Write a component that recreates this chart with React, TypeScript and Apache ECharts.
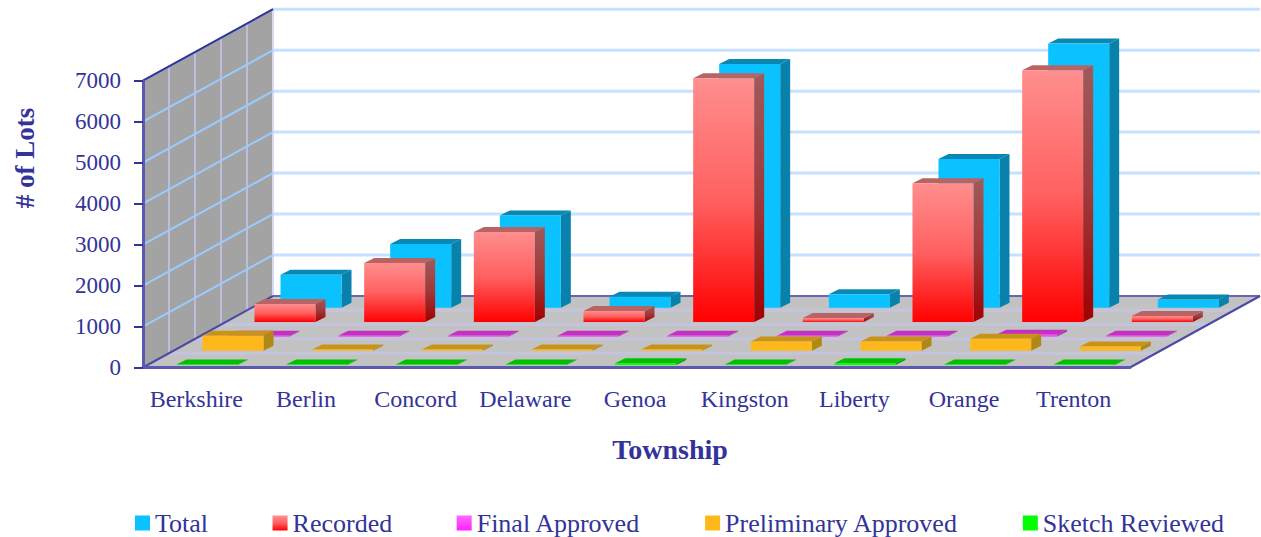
import React, { useEffect, useRef } from "react";
import * as echarts from "echarts";

const categories = ["Berkshire", "Berlin", "Concord", "Delaware", "Genoa", "Kingston", "Liberty", "Orange", "Trenton"];
const total = [805, 1560, 2250, 270, 5950, 330, 3630, 6450, 200];
const recorded = [440, 1440, 2200, 270, 5950, 100, 3390, 6150, 150];
const finalApproved = [15, 15, 15, 15, 15, 15, 15, 40, 15];
const preliminaryApproved = [365, 30, 30, 30, 30, 225, 225, 290, 100];
const sketchReviewed = [15, 15, 15, 15, 40, 15, 40, 15, 15];
const yTicks = [0, 1000, 2000, 3000, 4000, 5000, 6000, 7000];

const TEXT = "#333399";
const SERIF = "'Liberation Serif', 'Times New Roman', serif";
const ROW_DX = 26;
const ROW_DY = 14.3;
const DEPTH_DX = 130;
const DEPTH_DY = 71.5;
const BAR_W = 61;
const BAR_DX = 10;
const BAR_DY = 5;

const grad = (colors: string[]) =>
  new echarts.graphic.LinearGradient(
    0,
    0,
    0,
    1,
    colors.map((color, i) => ({ offset: i / (colors.length - 1), color }))
  );

function backdrop(_p: any, api: any) {
  const y0 = api.coord([0, 0]);
  const band = api.size([1, 0])[0];
  const x0 = y0[0] - band / 2;
  const yb = y0[1];
  const xEnd = x0 + band * categories.length;
  const yTop = api.coord([0, 7000])[1];
  const c: any[] = [];
  const poly = (pts: number[][], fill: string) =>
    c.push({ type: "polygon", shape: { points: pts }, style: { fill } });
  const line = (a: number[], b: number[], stroke: string, lineWidth: number) =>
    c.push({ type: "line", shape: { x1: a[0], y1: a[1], x2: b[0], y2: b[1] }, style: { stroke, lineWidth } });

  poly([[x0, yTop], [x0 + DEPTH_DX, yTop - DEPTH_DY], [x0 + DEPTH_DX, yb - DEPTH_DY], [x0, yb]], "#a3a3a3");
  poly([[x0, yb], [x0 + DEPTH_DX, yb - DEPTH_DY], [xEnd + DEPTH_DX, yb - DEPTH_DY], [xEnd, yb]], "#c2c2c2");
  for (let k = 1; k < 5; k++) {
    const dx = (DEPTH_DX * k) / 5;
    const dy = (DEPTH_DY * k) / 5;
    line([x0 + dx, yTop - dy], [x0 + dx, yb - dy], "#bcbcdc", 2);
    line([x0 + dx, yb - dy], [xEnd + dx, yb - dy], "#c4c4dc", 3);
  }
  line([x0 + DEPTH_DX, yTop - DEPTH_DY], [x0 + DEPTH_DX, yb - DEPTH_DY], "#d8d8f0", 2);
  yTicks.forEach((t) => {
    const y = api.coord([0, t])[1];
    if (t > 0) {
      line([x0, y], [x0 + DEPTH_DX, y - DEPTH_DY], "#99ccff", 2);
      line([x0 + DEPTH_DX, y - DEPTH_DY], [xEnd + DEPTH_DX, y - DEPTH_DY], "#c6e0ff", 3);
    }
  });
  line([x0 + DEPTH_DX, yb - DEPTH_DY], [xEnd + DEPTH_DX, yb - DEPTH_DY], "#6666b4", 2);
  line([x0, yTop], [x0 + DEPTH_DX, yTop - DEPTH_DY], TEXT, 2);
  line([x0, yb], [x0 + DEPTH_DX, yb - DEPTH_DY], "#4a4aa6", 2);
  line([xEnd, yb], [xEnd + DEPTH_DX, yb - DEPTH_DY], "#4a4aa6", 2);
  return { type: "group", silent: true, children: c };
}

function barRenderer(row: number, front: string[], side: string[], top: string) {
  return (_p: any, api: any) => {
    const i = api.value(0);
    const v = api.value(1);
    const base = api.coord([i, 0]);
    const peak = api.coord([i, v]);
    const band = api.size([1, 0])[0];
    const x = base[0] - band / 2 + 33.5 + ROW_DX * row;
    const yB = base[1] - 2.5 - ROW_DY * row;
    const yT = yB - (base[1] - peak[1]);
    const r = x + BAR_W;
    return {
      type: "group",
      children: [
        { type: "polygon", shape: { points: [[r, yT], [r + BAR_DX, yT - BAR_DY], [r + BAR_DX, yB - BAR_DY], [r, yB]] }, style: { fill: grad(side) } },
        { type: "polygon", shape: { points: [[x, yT], [x + BAR_DX, yT - BAR_DY], [r + BAR_DX, yT - BAR_DY], [r, yT]] }, style: { fill: top } },
        { type: "rect", shape: { x, y: yT, width: BAR_W, height: yB - yT }, style: { fill: grad(front) } },
      ],
    };
  };
}

const rows = (vals: number[]) => vals.map((v, i) => [i, v]);

export default function App() {
  const ref = useRef<HTMLDivElement>(null);
  useEffect(() => {
    const chart = echarts.init(ref.current!, null, { renderer: "svg" });
    const bar = (name: string, vals: number[], row: number, front: string[], side: string[], top: string) => ({
      type: "custom" as const,
      name,
      data: rows(vals),
      encode: { x: 0, y: 1 },
      itemStyle: { color: grad(front) },
      renderItem: barRenderer(row, front, side, top),
      silent: true,
    });
    chart.setOption({
      animation: false,
      backgroundColor: "#ffffff",
      grid: { left: 143, right: 131, top: 80.7, bottom: 169.5, containLabel: false },
      xAxis: {
        type: "category",
        data: categories,
        z: 10,
        axisLine: { lineStyle: { color: "#5a5ab0", width: 3 } },
        axisTick: { alignWithLabel: false, length: 8, lineStyle: { color: TEXT, width: 2 } },
        axisLabel: { color: TEXT, fontFamily: SERIF, fontSize: 24, margin: 19, interval: 0, padding: [0, 3, 0, 0] },
      },
      yAxis: {
        type: "value",
        min: 0,
        max: 7000,
        interval: 1000,
        z: 10,
        splitLine: { show: false },
        axisLine: { show: true, lineStyle: { color: "#5a5ab0", width: 3 } },
        axisTick: { show: true, length: 9, lineStyle: { color: TEXT, width: 2 } },
        axisLabel: { color: TEXT, fontFamily: SERIF, fontSize: 23, margin: 22, formatter: (v: number) => String(v) },
      },
      legend: {
        left: 130,
        top: 505,
        itemGap: 64.5,
        itemWidth: 15,
        itemHeight: 15,
        icon: "rect",
        data: ["Total", "Recorded", "Final Approved", "Preliminary Approved", "Sketch Reviewed"],
        textStyle: { color: TEXT, fontFamily: SERIF, fontSize: 26 },
      },
      graphic: [
        { type: "text", x: 670, y: 449, style: { text: "Township", fill: TEXT, font: `bold 28px ${SERIF}`, align: "center", verticalAlign: "middle" } },
        { type: "text", x: 25, y: 158, rotation: Math.PI / 2, style: { text: "# of Lots", fill: TEXT, font: `bold 27px ${SERIF}`, align: "center", verticalAlign: "middle" } },
      ],
      series: [
        { type: "custom", name: "backdrop", data: [[0, 0]], encode: { x: 0, y: 1 }, renderItem: backdrop, silent: true },
        bar("Total", total, 4, ["#0ac2ff", "#0ac2ff"], ["#0882aa", "#0882aa"], "#0888b2"),
        bar("Recorded", recorded, 3, ["#ff8e8e", "#ff6060", "#ff0000"], ["#a05a5a", "#a03a3a", "#a00000"], "#b86464"),
        bar("Final Approved", finalApproved, 2, ["#ff66ff", "#ff22ff"], ["#a040a0", "#a040a0"], "#c430c4"),
        bar("Preliminary Approved", preliminaryApproved, 1, ["#ffb81c", "#ffb81c"], ["#b08814", "#b08814"], "#c89418"),
        bar("Sketch Reviewed", sketchReviewed, 0, ["#00ff00", "#00ff00"], ["#00a000", "#00a000"], "#00c000"),
      ],
    });
    return () => chart.dispose();
  }, []);
  return <div ref={ref} style={{ position: "fixed", left: 0, top: 0, width: 1261, height: 537 }} />;
}
